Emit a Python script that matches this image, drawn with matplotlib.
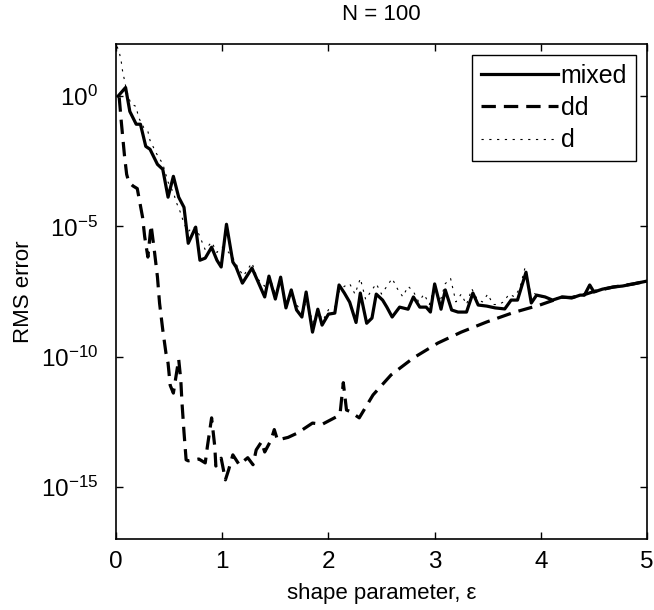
"""
RMS error vs shape parameter (N = 100) for the mixed, dd and d methods.
"""

import numpy as np
import matplotlib
matplotlib.use('Agg')
from matplotlib import pyplot as plt

plt.rcParams['font.family'] = ['Liberation Sans', 'DejaVu Sans']

# log10 of the RMS error
eps_mixed = [0.02, 0.09, 0.13, 0.19, 0.23, 0.28, 0.32, 0.39, 0.44, 0.49, 0.54, 0.59, 0.64,
             0.68, 0.75, 0.79, 0.84, 0.90, 0.95, 0.99, 1.04, 1.10, 1.13, 1.19, 1.28, 1.33,
             1.40, 1.44, 1.50, 1.55, 1.60, 1.65, 1.70, 1.75, 1.79, 1.85, 1.90, 1.94, 2.00,
             2.06, 2.10, 2.15, 2.20, 2.26, 2.30, 2.36, 2.41, 2.45, 2.51, 2.55, 2.60, 2.67,
             2.75, 2.80, 2.86, 2.92, 2.96, 3.00, 3.06, 3.10, 3.16, 3.22, 3.30, 3.36, 3.41,
             3.49, 3.57, 3.66, 3.72, 3.78, 3.86, 3.91, 3.96, 4.04, 4.11, 4.20, 4.29, 4.37,
             4.41, 4.46, 4.50, 4.58, 4.68, 4.77, 4.87, 5.00]
log_mixed = [0.0, 0.33, -0.59, -1.08, -1.08, -1.93, -2.04, -2.62, -2.81, -3.88, -3.08, -3.88, -4.27,
             -5.65, -5.03, -6.30, -6.22, -5.80, -6.30, -6.56, -4.92, -6.37, -6.56, -7.18, -6.60, -7.06,
             -7.71, -6.91, -7.79, -6.95, -8.13, -7.44, -8.21, -8.48, -7.52, -9.06, -8.18, -8.79, -8.37,
             -8.33, -7.25, -7.56, -7.91, -8.69, -7.56, -8.72, -8.52, -7.60, -7.83, -8.10, -8.48, -8.10,
             -8.18, -7.71, -8.10, -8.10, -8.29, -7.21, -8.18, -7.44, -8.21, -8.29, -8.29, -7.56, -8.02,
             -8.06, -8.13, -8.17, -7.83, -7.83, -6.76, -7.94, -7.64, -7.71, -7.83, -7.71, -7.75, -7.64,
             -7.64, -7.25, -7.52, -7.41, -7.33, -7.29, -7.21, -7.10]

eps_dd = [0.03, 0.05, 0.08, 0.10, 0.12, 0.16, 0.20, 0.25, 0.27, 0.30, 0.33, 0.36, 0.39, 0.41,
          0.44, 0.47, 0.49, 0.51, 0.54, 0.59, 0.61, 0.62, 0.64, 0.66, 0.68, 0.78, 0.84, 0.86,
          0.90, 0.93, 0.94, 0.99, 1.03, 1.06, 1.10, 1.16, 1.24, 1.29, 1.32, 1.37, 1.40, 1.46,
          1.49, 1.52, 1.62, 1.71, 1.85, 1.94, 2.08, 2.11, 2.14, 2.17, 2.20, 2.29, 2.42, 2.59,
          2.80, 3.03, 3.25, 3.49, 3.74, 3.99, 4.20, 4.29, 4.41, 4.50, 4.68, 4.87, 5.00]
log_dd = [-0.05, -1.0, -2.3, -3.0, -3.3, -3.45, -3.55, -4.65, -5.4, -6.18, -4.95, -5.9, -6.94, -7.95,
          -8.97, -9.86, -10.25, -11.1, -11.4, -10.1, -10.9, -11.7, -12.9, -13.96, -14.0, -13.93, -14.08, -13.46,
          -12.35, -13.46, -14.2, -13.9, -14.73, -14.35, -13.77, -14.15, -13.88, -14.15, -13.58, -13.27, -13.66, -13.2,
          -12.8, -13.2, -13.1, -12.93, -12.55, -12.6, -12.3, -12.17, -11.0, -12.05, -12.1, -12.35, -11.47, -10.7,
          -10.05, -9.48, -9.06, -8.67, -8.31, -8.02, -7.72, -7.73, -7.62, -7.5, -7.33, -7.21, -7.10]

eps_d = [0.01, 0.03, 0.05, 0.06, 0.08, 0.10, 0.14, 0.19, 0.21, 0.26, 0.30, 0.32, 0.38, 0.44, 0.49,
         0.54, 0.57, 0.61, 0.64, 0.68, 0.73, 0.78, 0.84, 0.90, 0.95, 1.00, 1.04, 1.10, 1.15, 1.20,
         1.28, 1.33, 1.40, 1.45, 1.50, 1.55, 1.60, 1.66, 1.70, 1.75, 1.80, 1.85, 1.90, 1.95, 2.00,
         2.06, 2.10, 2.15, 2.20, 2.25, 2.30, 2.35, 2.40, 2.45, 2.50, 2.55, 2.60, 2.65, 2.70, 2.75,
         2.80, 2.85, 2.90, 2.95, 3.00, 3.05, 3.10, 3.15, 3.20, 3.25, 3.30, 3.35, 3.40, 3.45, 3.50,
         3.55, 3.60, 3.65, 3.70, 3.75, 3.80, 3.85, 3.90, 3.95, 4.00, 4.10, 4.20, 4.30, 4.40, 4.50,
         4.60, 4.70, 4.80, 4.90, 5.00]
log_d = [1.9, 1.7, 1.3, 1.0, 0.6, 0.2, -0.3, -0.4, -0.8, -1.2, -1.35, -1.7, -2.2, -2.6, -3.3,
         -3.7, -4.1, -4.5, -4.9, -5.2, -5.0, -5.3, -5.9, -5.6, -6.0, -5.8, -5.9, -6.2, -6.6, -6.9,
         -6.4, -7.0, -7.3, -7.0, -7.6, -7.1, -7.9, -7.6, -8.0, -8.3, -7.8, -8.7, -8.3, -8.6, -8.2,
         -8.1, -7.5, -7.3, -7.2, -7.6, -7.0, -7.8, -7.5, -7.2, -7.6, -7.3, -7.0, -7.4, -7.7, -7.3,
         -7.5, -7.9, -7.6, -8.0, -7.3, -7.9, -7.2, -7.0, -7.9, -7.6, -8.0, -7.4, -7.8, -7.9, -7.6,
         -8.0, -8.0, -7.9, -7.6, -7.7, -7.4, -6.6, -7.5, -7.6, -7.7, -7.8, -7.7, -7.7, -7.6, -7.5,
         -7.4, -7.3, -7.25, -7.2, -7.1]

y_ticks = [1e-15, 1e-10, 1e-5, 1e0]
y_tick_labels = [r'$\mathregular{10^{-15}}$', r'$\mathregular{10^{-10}}$',
                 r'$\mathregular{10^{-5}}$', r'$\mathregular{10^{0}}$']


def main():
    fig = plt.figure(figsize=(6.54, 6.10), dpi=100)
    ax = fig.add_axes([0.1774, 0.1164, 0.812, 0.8115])

    ax.semilogy(eps_mixed, 10.0 ** np.array(log_mixed), color='k', lw=2.3, label='mixed')
    ax.semilogy(eps_dd, 10.0 ** np.array(log_dd), color='k', lw=2.3,
                linestyle=(0, (4.5, 2.5)), label='dd')
    ax.semilogy(eps_d, 10.0 ** np.array(log_d), color='k', lw=0.8,
                linestyle=(0, (2, 5)), label='d')

    ax.set_xlim(0, 5)
    ax.set_ylim(1e-17, 1e2)
    ax.set_yticks(y_ticks)
    ax.set_yticklabels(y_tick_labels)
    ax.yaxis.set_minor_locator(matplotlib.ticker.NullLocator())
    ax.set_xticks([0, 1, 2, 3, 4, 5])
    ax.tick_params(direction='in', top=True, right=True, length=5, width=1,
                   labelsize=17.5)
    ax.tick_params(axis='x', pad=9)
    ax.tick_params(axis='y', pad=13)
    for s in ax.spines.values():
        s.set_linewidth(1.2)

    ax.set_xlabel('shape parameter, ε', fontsize=16, labelpad=7)
    ax.set_ylabel('RMS error', fontsize=16, labelpad=5)
    ax.set_title('N = 100', fontsize=16, pad=17)

    leg = ax.legend(loc='upper right', fontsize=18, handlelength=3.1, handletextpad=0.1,
                    borderpad=0.35, labelspacing=0.33, fancybox=False, edgecolor='k',
                    framealpha=1, borderaxespad=0.45)
    leg.get_frame().set_linewidth(1.0)

    fig.savefig('out.png', dpi=100)


if __name__ == '__main__':
    main()
